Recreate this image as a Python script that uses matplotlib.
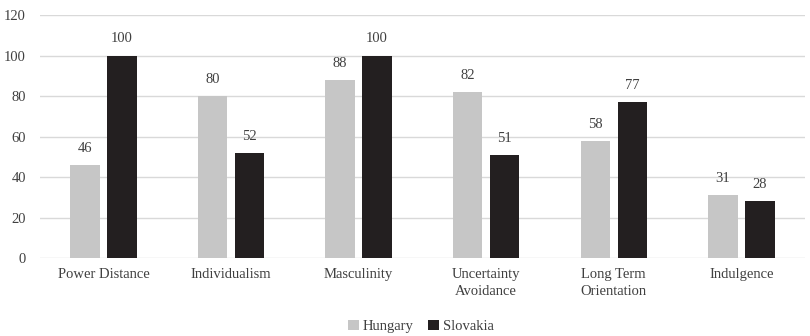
import numpy as np
import matplotlib
matplotlib.use('Agg')
import matplotlib.pyplot as plt

categories = ['Power Distance', 'Individualism', 'Masculinity', 'Uncertainty\nAvoidance',
              'Long Term\nOrientation', 'Indulgence']
hungary = [46, 80, 88, 82, 58, 31]
slovakia = [100, 52, 100, 51, 77, 28]

plt.rcParams['font.family'] = ['Liberation Serif', 'DejaVu Serif']
txt = '#404040'
fs = 10.5

fig = plt.figure(figsize=(8.1, 3.36), dpi=100)
ax = fig.add_axes([0.049, 0.232, 0.945, 0.723])

x = np.arange(len(categories))
w = 0.23
off = 0.145
b1 = ax.bar(x - off, hungary, w, color='#c6c6c6', label='Hungary', zorder=3)
b2 = ax.bar(x + off, slovakia, w, color='#231f20', label='Slovakia', zorder=3)

for bars, vals in ((b1, hungary), (b2, slovakia)):
    for b, v in zip(bars, vals):
        ax.text(b.get_x() + b.get_width() / 2, v + 5, str(v), ha='center', va='bottom',
                fontsize=fs, color=txt)

ax.set_ylim(0, 120)
ax.set_yticks(range(0, 121, 20))
ax.set_xlim(-0.5, len(categories) - 0.5)
ax.set_xticks(x)
ax.set_xticklabels(categories, fontsize=fs, color=txt, linespacing=1.4)
ax.tick_params(axis='y', labelsize=fs, labelcolor=txt, length=0, pad=10)
ax.tick_params(axis='x', length=0, pad=7)
ax.grid(axis='y', color='#d9d9d9', linewidth=1, zorder=0)
for s in ax.spines.values():
    s.set_visible(False)

fig.legend(loc='lower center', bbox_to_anchor=(0.52, -0.03), ncol=2, frameon=False,
           fontsize=fs, handlelength=0.7, handleheight=0.7, handletextpad=0.3,
           columnspacing=1.0, labelcolor=txt)

fig.savefig('out.png', dpi=100)
